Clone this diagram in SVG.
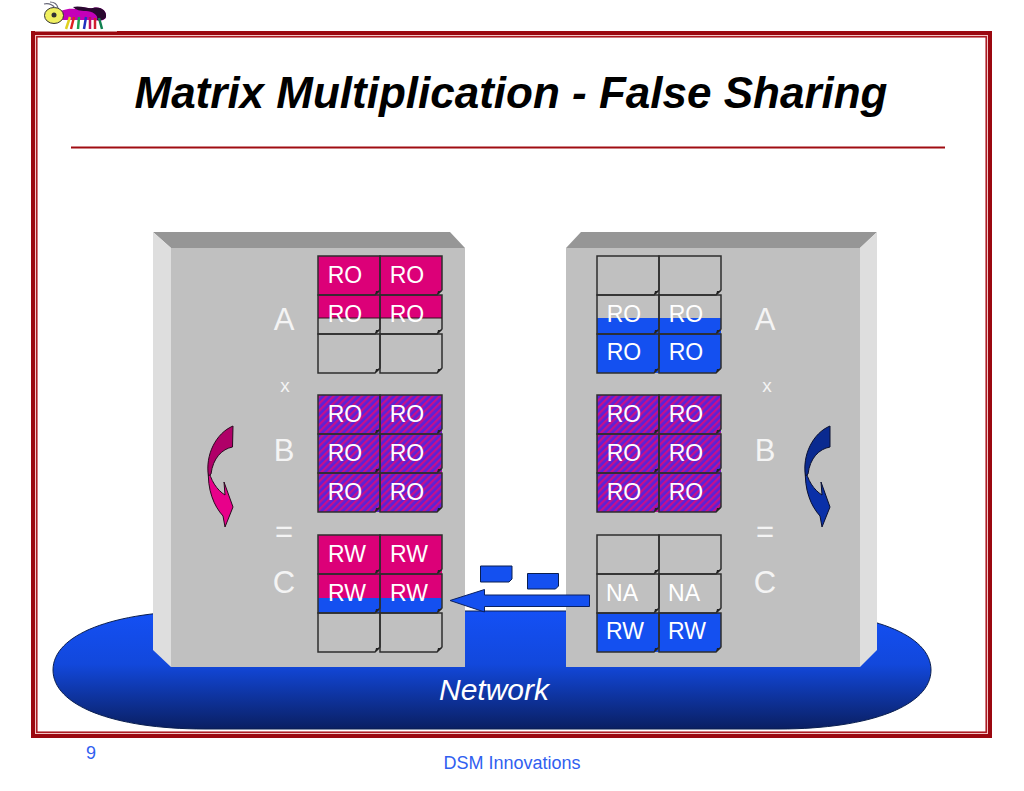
<svg xmlns="http://www.w3.org/2000/svg" width="1024" height="791" viewBox="0 0 1024 791">
<style>
text{font-family:"Liberation Sans",Arial,sans-serif}
.o{fill:none;stroke:#2e2e2e;stroke-width:1.5}
.p{fill:#dc0078}
.b{fill:#1450f0}
.h{fill:url(#hatch)}
.t{fill:#fff;font-size:23px;text-anchor:middle}
.l{fill:#f4f4f4;font-size:31px;text-anchor:middle}
.s{fill:#f4f4f4;font-size:19px;text-anchor:middle}
.f{fill:#222}
.face{fill:#c0c0c0}
.side{fill:#dedede}
.top{fill:#969696}
</style>
<defs>
<linearGradient id="net" x1="0" y1="0" x2="0" y2="1"><stop offset="0" stop-color="#1450f5"/><stop offset=".45" stop-color="#1248dc"/><stop offset="1" stop-color="#0a1f62"/></linearGradient>
<pattern id="hatch" width="5" height="5" patternUnits="userSpaceOnUse" patternTransform="rotate(45)"><rect width="5" height="5" fill="#5a22d8"/><rect width="2.300" height="5" fill="#c4108c"/></pattern>
<g id="cell"><path class="o" d="M0 0H62V34L57 39H0Z"/><path class="f" d="M57 39L58 35H62Z"/></g>
</defs>

<g id="frame">
<rect x="33" y="33" width="957" height="703" fill="none" stroke="#9b0810" stroke-width="4"/>
<rect x="35.500" y="35.500" width="952" height="698" fill="none" stroke="#f4c4c4" stroke-width="1"/>
<rect x="36.800" y="36.800" width="949.400" height="695.400" fill="none" stroke="#a81018" stroke-width="1.500"/>
<rect x="35" y="0" width="82" height="31.500" fill="#fff"/>
</g>

<g id="logo">
<path d="M56 15C60 10 68 8 75 9C80 5 88 9 93 8C101 6 107 11 106 17C105 21 99 21 94 20L62 20Z" fill="#c400b8"/>
<path d="M73 7C80 5 88 9 93 8C101 6 107 11 106 17C105 20 100 21 97 20C99 15 92 11 86 11C80 11 76 10 73 7Z" fill="#2a0830"/>
<path d="M66 29L70 17" stroke="#e0d020" stroke-width="2.500" fill="none"/>
<path d="M71 29L74 17" stroke="#e02020" stroke-width="2.500" fill="none"/>
<path d="M78 29L79 17" stroke="#20a050" stroke-width="2.500" fill="none"/>
<path d="M84 29L86 17" stroke="#2030c0" stroke-width="2.500" fill="none"/>
<path d="M90 29L90 17" stroke="#c01060" stroke-width="2.500" fill="none"/>
<path d="M95 29L95 18" stroke="#d02030" stroke-width="2.500" fill="none"/>
<path d="M102 29L99 18" stroke="#108050" stroke-width="2.500" fill="none"/>
<ellipse cx="54" cy="15.500" rx="9.500" ry="8" fill="#f0f060" stroke="#333" stroke-width="1"/>
<circle cx="54" cy="15" r="2.500" fill="#333"/>
<path d="M55 8C52 4 49 3 44 4M58 8C57 4 54 2 50 2" stroke="#667" stroke-width="1.200" fill="none"/>
</g>

<text id="title" x="511" y="108" text-anchor="middle" font-size="44" font-weight="bold" font-style="italic" fill="#000">Matrix Multiplication - False Sharing</text>
<rect id="rule" x="71" y="146.500" width="874" height="2" fill="#a00c12"/>

<path id="network" d="M53 670C53 635 112 611 205 611H779C872 611 931 635 931 670C931 705 872 729 779 729H205C112 729 53 705 53 670Z" fill="url(#net)" stroke="#0a1f50" stroke-width="1"/>
<text id="network-label" x="494" y="700" text-anchor="middle" font-size="30" font-style="italic" fill="#fff">Network</text>

<g id="left-panel">
<path class="top" d="M153 232H450L465 248H171Z"/>
<path class="side" d="M153 232L171 248V667L153 650Z"/>
<rect class="face" x="171" y="248" width="294" height="419"/>
<text class="l" x="284" y="330">A</text>
<text class="s" x="285" y="392">x</text>
<text class="l" x="284" y="461">B</text>
<text class="l" x="284" y="542">=</text>
<text class="l" x="284" y="593">C</text>
<path fill="#e8008a" stroke="#2a0a20" stroke-width="1" d="M208.500 468C210 480 217 490 225 495L224 482L233 507L225 527L223 516C214 506 207 490 208.500 468Z"/>
<path fill="#b00068" stroke="#2a0a20" stroke-width="1" d="M233 426L232.500 447C222 449 213 458 211 474L208.500 476C205 455 216 433 233 426Z"/>
</g>

<g id="right-panel">
<path class="top" d="M566 248L581 232H877L860 248Z"/>
<path class="side" d="M860 248L877 232V650L860 667Z"/>
<rect class="face" x="566" y="248" width="294" height="419"/>
<text class="l" x="765" y="330">A</text>
<text class="s" x="767" y="392">x</text>
<text class="l" x="765" y="461">B</text>
<text class="l" x="765" y="542">=</text>
<text class="l" x="765" y="593">C</text>
<path fill="#0a30a8" stroke="#0a1030" stroke-width="1" d="M805.500 468C807 480 814 490 822 495L821 482L830 507L822 527L820 516C811 506 804 490 805.500 468Z"/>
<path fill="#0a2a90" stroke="#0a1030" stroke-width="1" d="M830 426V447C819 449 810 458 808 474L805.500 476C802 455 813 433 830 426Z"/>
</g>

<g id="left-matrix-a">
<path class="p" d="M318 256H442V290L437 295H318Z"/>
<path class="p" d="M318 295H442V318H318Z"/>
<use href="#cell" x="318" y="256"/><use href="#cell" x="380" y="256"/>
<use href="#cell" x="318" y="295"/><use href="#cell" x="380" y="295"/>
<use href="#cell" x="318" y="334"/><use href="#cell" x="380" y="334"/>
<path d="M318 318H442" stroke="#30101f" stroke-width="1"/>
<text class="t" x="345" y="283">RO</text><text class="t" x="407" y="283">RO</text>
<text class="t" x="345" y="322">RO</text><text class="t" x="407" y="322">RO</text>
</g>

<g id="left-matrix-b">
<path class="h" d="M318 395H442V507L437 512H318Z"/>
<use href="#cell" x="318" y="395"/><use href="#cell" x="380" y="395"/>
<use href="#cell" x="318" y="434"/><use href="#cell" x="380" y="434"/>
<use href="#cell" x="318" y="473"/><use href="#cell" x="380" y="473"/>
<text class="t" x="345" y="422">RO</text><text class="t" x="407" y="422">RO</text>
<text class="t" x="345" y="461">RO</text><text class="t" x="407" y="461">RO</text>
<text class="t" x="345" y="500">RO</text><text class="t" x="407" y="500">RO</text>
</g>

<g id="left-matrix-c">
<path class="p" d="M318 535H442V598H318Z"/>
<path class="b" d="M318 598H442V608L437 613H318Z"/>
<use href="#cell" x="318" y="535"/><use href="#cell" x="380" y="535"/>
<use href="#cell" x="318" y="574"/><use href="#cell" x="380" y="574"/>
<use href="#cell" x="318" y="613"/><use href="#cell" x="380" y="613"/>
<text class="t" x="347" y="562">RW</text><text class="t" x="409" y="562">RW</text>
<text class="t" x="347" y="601">RW</text><text class="t" x="409" y="601">RW</text>
</g>

<g id="right-matrix-a">
<path class="b" d="M597 318H721V368L716 373H597Z"/>
<use href="#cell" x="597" y="256"/><use href="#cell" x="659" y="256"/>
<use href="#cell" x="597" y="295"/><use href="#cell" x="659" y="295"/>
<use href="#cell" x="597" y="334"/><use href="#cell" x="659" y="334"/>
<text class="t" x="624" y="322">RO</text><text class="t" x="686" y="322">RO</text>
<text class="t" x="624" y="360">RO</text><text class="t" x="686" y="360">RO</text>
</g>

<g id="right-matrix-b">
<path class="h" d="M597 395H721V507L716 512H597Z"/>
<use href="#cell" x="597" y="395"/><use href="#cell" x="659" y="395"/>
<use href="#cell" x="597" y="434"/><use href="#cell" x="659" y="434"/>
<use href="#cell" x="597" y="473"/><use href="#cell" x="659" y="473"/>
<text class="t" x="624" y="422">RO</text><text class="t" x="686" y="422">RO</text>
<text class="t" x="624" y="461">RO</text><text class="t" x="686" y="461">RO</text>
<text class="t" x="624" y="500">RO</text><text class="t" x="686" y="500">RO</text>
</g>

<g id="right-matrix-c">
<path class="b" d="M597 613H721V647L716 652H597Z"/>
<use href="#cell" x="597" y="535"/><use href="#cell" x="659" y="535"/>
<use href="#cell" x="597" y="574"/><use href="#cell" x="659" y="574"/>
<use href="#cell" x="597" y="613"/><use href="#cell" x="659" y="613"/>
<text class="t" x="622" y="601">NA</text><text class="t" x="684" y="601">NA</text>
<text class="t" x="625" y="639">RW</text><text class="t" x="687" y="639">RW</text>
</g>

<g id="connectors">
<path d="M480.500 566H512V579L509 582H480.500Z" fill="#1450f0" stroke="#0a1f50" stroke-width="1"/>
<path d="M527.500 573.500H558.500V586L555.500 589H527.500Z" fill="#1450f0" stroke="#0a1f50" stroke-width="1"/>
<path d="M450 600.500L484.500 589.500V595H589.500V606.500H484.500V612Z" fill="#1450f0" stroke="#0a2060" stroke-width="1"/>
</g>

<text id="page-number" x="91" y="759" text-anchor="middle" font-size="18" fill="#3060f0">9</text>
<text id="footer" x="512" y="769" text-anchor="middle" font-size="18" fill="#3060f0">DSM Innovations</text>
</svg>
